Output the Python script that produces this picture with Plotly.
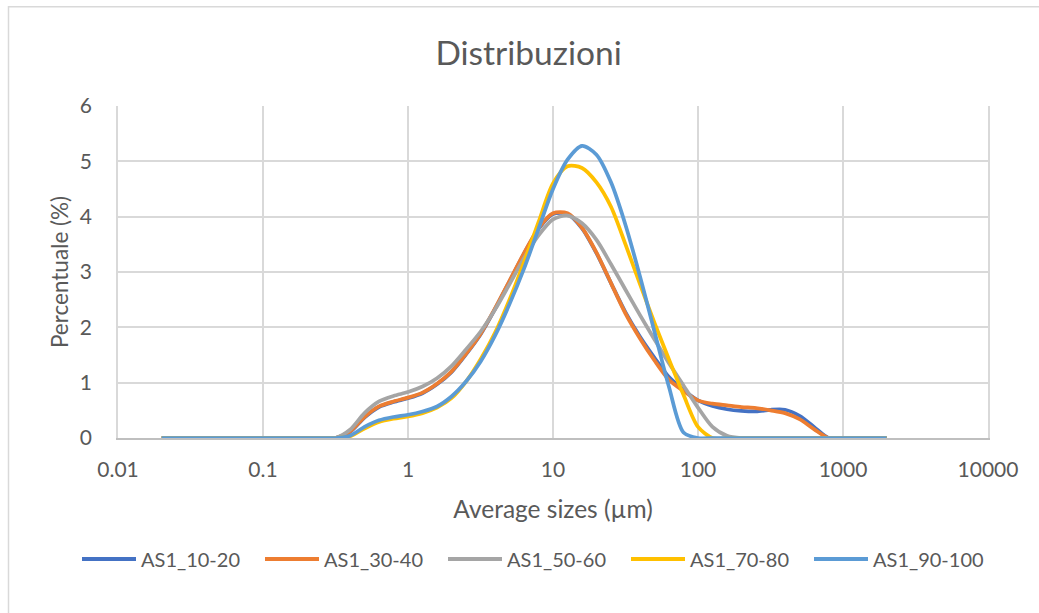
import plotly.graph_objects as go

sizes = [0.02, 0.05, 0.1, 0.2,
         0.316, 0.398, 0.501, 0.631, 0.794, 1.0, 1.259, 1.585, 1.995, 2.512,
         3.162, 3.981, 5.012, 6.31, 7.943, 10.0, 12.59, 15.85, 19.95, 25.12,
         31.62, 39.81, 50.12, 63.1, 79.43, 100.0, 125.9, 158.5, 199.5, 251.2,
         316.2, 398.1, 501.2, 631.0, 794.3, 1000.0,
         1259.0, 1585.0, 2000.0]

z4 = [0, 0, 0, 0]
z3 = [0, 0, 0]

as1_10_20 = z4 + [0, 0.11, 0.37, 0.56, 0.65, 0.72, 0.81, 0.97, 1.19, 1.51,
                  1.87, 2.33, 2.83, 3.33, 3.78, 4.05, 4.05, 3.79, 3.34, 2.80,
                  2.27, 1.83, 1.45, 1.10, 0.87, 0.68, 0.58, 0.52, 0.49, 0.48,
                  0.51, 0.51, 0.40, 0.20, 0.0, 0] + z3
as1_30_40 = z4 + [0, 0.12, 0.38, 0.57, 0.66, 0.73, 0.82, 0.98, 1.20, 1.52,
                  1.88, 2.34, 2.84, 3.34, 3.79, 4.06, 4.06, 3.80, 3.35, 2.80,
                  2.25, 1.80, 1.40, 1.05, 0.85, 0.68, 0.62, 0.59, 0.56, 0.54,
                  0.50, 0.45, 0.34, 0.16, 0.0, 0] + z3
as1_50_60 = z4 + [0, 0.15, 0.45, 0.66, 0.76, 0.83, 0.93, 1.08, 1.30, 1.60,
                  1.92, 2.32, 2.78, 3.25, 3.66, 3.95, 4.02, 3.88, 3.58, 3.14,
                  2.68, 2.22, 1.78, 1.35, 0.95, 0.55, 0.20, 0.04, 0, 0,
                  0, 0, 0, 0, 0, 0] + z3
as1_70_80 = z4 + [0, 0.03, 0.17, 0.29, 0.35, 0.39, 0.45, 0.55, 0.72, 1.02,
                  1.42, 1.90, 2.50, 3.18, 3.90, 4.60, 4.91, 4.88, 4.62, 4.18,
                  3.50, 2.78, 2.08, 1.42, 0.78, 0.20, 0, 0, 0, 0,
                  0, 0, 0, 0, 0, 0] + z3
as1_90_100 = z4 + [0, 0.04, 0.20, 0.32, 0.38, 0.42, 0.48, 0.57, 0.75, 1.02,
                   1.38, 1.85, 2.42, 3.06, 3.78, 4.50, 5.03, 5.28, 5.12, 4.62,
                   3.85, 2.92, 1.92, 0.92, 0.10, 0, 0, 0, 0, 0,
                   0, 0, 0, 0, 0, 0] + z3

series = [
    ("AS1_10-20", as1_10_20, "#4472C4"),
    ("AS1_30-40", as1_30_40, "#ED7D31"),
    ("AS1_50-60", as1_50_60, "#A5A5A5"),
    ("AS1_70-80", as1_70_80, "#FFC000"),
    ("AS1_90-100", as1_90_100, "#5B9BD5"),
]

tick_vals = [0.01, 0.1, 1, 10, 100, 1000, 10000]
tick_text = ["0.01", "0.1", "1", "10", "100", "1000", "10000"]

FONT = "Lato"
TXT = "#595959"

# plot-area geometry (pixels) used to place the custom legend
L, R, T, B = 118, 51, 106, 175
PW, PH = 1039 - L - R, 613 - T - B


def px_to_paper_x(px):
    return (px - L) / PW


def py_to_paper_y(py):
    return (613 - B - py) / PH


fig = go.Figure()
for name, vals, col in series:
    fig.add_trace(go.Scatter(
        x=sizes, y=vals, name=name, mode="lines", showlegend=False,
        line=dict(color=col, width=3.75, shape="spline", smoothing=0.8),
    ))

shapes = [dict(type="rect", xref="paper", yref="paper",
               x0=px_to_paper_x(8.5), x1=1.3, y0=-1.0, y1=py_to_paper_y(6.7),
               line=dict(color="#D9D9D9", width=1.5),
               fillcolor="rgba(0,0,0,0)", layer="below")]
annotations = []
leg_y = py_to_paper_y(559)
for i, (name, vals, col) in enumerate(series):
    x0 = 82 + 183 * i
    shapes.append(dict(type="line", xref="paper", yref="paper",
                       x0=px_to_paper_x(x0), x1=px_to_paper_x(x0 + 54),
                       y0=leg_y, y1=leg_y,
                       line=dict(color=col, width=4)))
    annotations.append(dict(text=name, xref="paper", yref="paper",
                            x=px_to_paper_x(x0 + 57), y=leg_y,
                            xanchor="left", yanchor="middle", showarrow=False,
                            font=dict(family=FONT, size=20, color=TXT)))

fig.update_layout(
    width=1039, height=613,
    margin=dict(l=L, r=R, t=T, b=B),
    paper_bgcolor="white", plot_bgcolor="white",
    font=dict(family=FONT, color=TXT, size=20),
    showlegend=False,
    title=dict(text="Distribuzioni", x=0.5087, xanchor="center",
               y=1 - 53 / 613, yanchor="middle", yref="container",
               font=dict(family=FONT, size=33.5, color=TXT)),
    shapes=shapes,
    annotations=annotations,
)

fig.update_xaxes(
    type="log", range=[-2, 4], tickvals=tick_vals, ticktext=tick_text,
    showgrid=True, gridcolor="#D9D9D9", gridwidth=1.5,
    showline=True, linecolor="#BFBFBF", linewidth=1.5,
    ticks="", ticklabelstandoff=12, zeroline=False,
    tickfont=dict(size=21, color=TXT),
    title=dict(text="Average sizes (µm)", standoff=21,
               font=dict(size=24.5, color=TXT)),
)
fig.update_yaxes(
    range=[0, 6], dtick=1, tick0=0,
    showgrid=True, gridcolor="#D9D9D9", gridwidth=1.5,
    zeroline=False, showline=True, mirror=True, linecolor="#D9D9D9",
    linewidth=1.5, ticks="", ticklabelstandoff=20,
    tickfont=dict(size=21, color=TXT),
    title=dict(text="Percentuale (%)", standoff=5,
               font=dict(size=22.5, color=TXT)),
)

fig.write_html("out.html")
